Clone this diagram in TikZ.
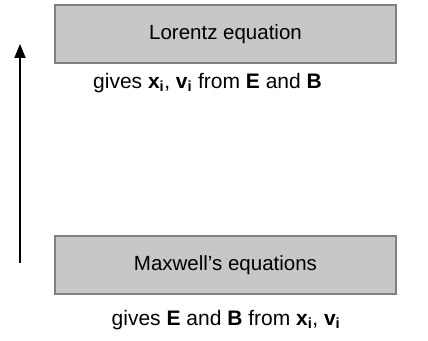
\documentclass[tikz,border=0pt]{standalone}
\usepackage{fontspec}
\setmainfont{Liberation Sans}
\usetikzlibrary{arrows.meta}

\begin{document}
\begin{tikzpicture}[
    x=1pt, y=1pt,
    eqbox/.style={draw=black!50, fill=black!22, line width=1.2pt,
                  minimum width=341pt, minimum height=58pt,
                  inner sep=0pt, font=\fontsize{20.5}{24}\selectfont},
    note/.style={font=\fontsize{21}{25}\selectfont, inner sep=0pt},
    flow/.style={line width=1.8pt, -{Triangle[length=14pt,width=11pt]}}
]
\useasboundingbox (0,0) rectangle (428,340);

% Boxes
\node[eqbox] (lorentz) at (225.5,306) {Lorentz equation};
\node[eqbox] (maxwell) at (225.5,75)  {Maxwell's equations};

% Notes
\node[note] (lorentznote) at (207.5,257)
  {gives \textbf{x\textsubscript{i}}, \textbf{v\textsubscript{i}} from \textbf{E} and \textbf{B}};
\node[note] (maxwellnote) at (226,20)
  {gives \textbf{E} and \textbf{B} from \textbf{x\textsubscript{i}}, \textbf{v\textsubscript{i}}};

% Arrow
\coordinate (lo) at (20,77);
\coordinate (hi) at (20,296);
\draw[flow] (lo) -- (hi);

\end{tikzpicture}
\end{document}
